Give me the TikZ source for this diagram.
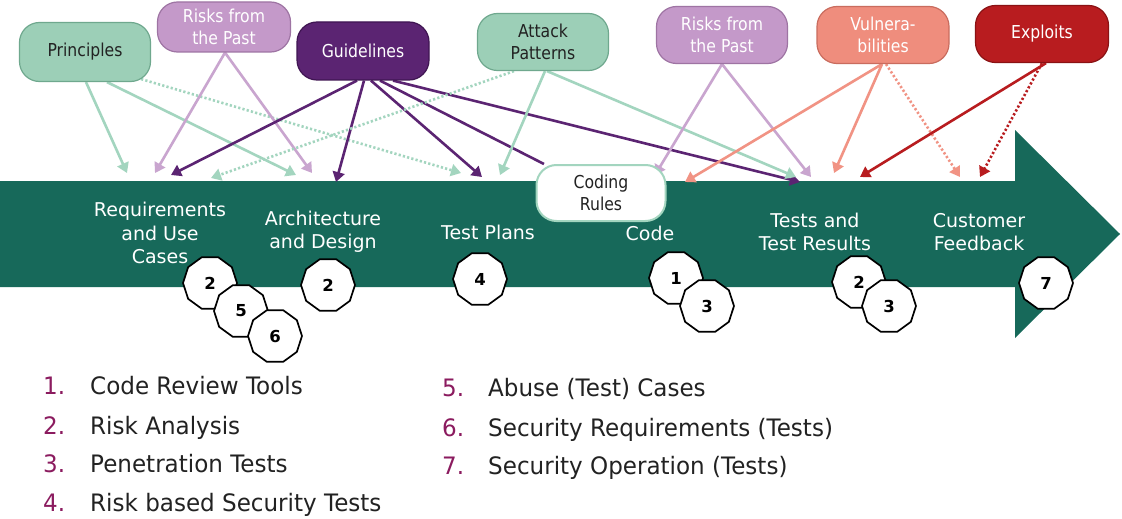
\documentclass[tikz,border=0pt]{standalone}
\usepackage{fontspec}
\setmainfont{DejaVu Sans}
\newfontfamily\narrowf{DejaVu Sans}[FakeStretch=0.88]
\newfontfamily\legf{DejaVu Sans}[FakeStretch=0.96]
\usetikzlibrary{arrows.meta,shapes.geometric}
\pgfdeclarelayer{back}
\pgfdeclarelayer{mid}
\pgfsetlayers{back,mid,main}
\definecolor{bodyg}{HTML}{17695A}
\definecolor{mintF}{HTML}{9CCFB7}
\definecolor{mintD}{HTML}{6FA88E}
\definecolor{mintA}{HTML}{A3D5BF}
\definecolor{lavF}{HTML}{C499C9}
\definecolor{lavD}{HTML}{9E74A3}
\definecolor{lavA}{HTML}{C9A5CF}
\definecolor{purF}{HTML}{5B2472}
\definecolor{purD}{HTML}{3F1552}
\definecolor{salF}{HTML}{EF8D7D}
\definecolor{salD}{HTML}{C96C5E}
\definecolor{salA}{HTML}{F19384}
\definecolor{redF}{HTML}{B81C1F}
\definecolor{redD}{HTML}{8A1214}
\definecolor{numc}{HTML}{8B1B5F}
\definecolor{txt}{HTML}{222222}
\tikzset{
  box/.style={rounded corners=20pt, minimum width=131pt, minimum height=57pt,
    line width=1.2pt, align=center, inner sep=2pt,
    font=\narrowf\fontsize{17.8}{22}\selectfont},
  lbl/.style={align=center, text=white, font=\fontsize{19}{23.5}\selectfont},
  badge/.style={regular polygon, regular polygon sides=10, minimum size=54pt,
    draw=black, line width=1.7pt, fill=white, inner sep=0pt,
    font=\bfseries\fontsize{16.5}{16.5}\selectfont},
  con/.style={line width=2.6pt, -{Triangle[length=10pt,width=12pt]}},
  dots/.style={con, dash pattern=on 2.2pt off 2.2pt},
  item/.style={anchor=base west, inner sep=0pt, text=txt,
    font=\legf\fontsize{24}{26}\selectfont}
}
\begin{document}
\begin{tikzpicture}[x=1pt,y=-1pt]
\useasboundingbox (0,0) rectangle (1122,519);
\begin{pgfonlayer}{back}
\fill[white] (0,0) rectangle (1122,519);
\fill[bodyg] (0,181) -- (1015,181) -- (1015,130) -- (1120,234) -- (1015,338) -- (1015,287) -- (0,287) -- cycle;
\end{pgfonlayer}

% source nodes
\node[box, fill=mintF, draw=mintD, text=txt, minimum height=59pt] (prin) at (85,52) {Principles};
\node[box, fill=lavF, draw=lavD, text=white, minimum width=133pt, minimum height=50pt] (risL) at (224,27) {Risks from\\the Past};
\node[box, fill=purF, draw=purD, text=white, minimum width=132pt, minimum height=58pt] (guid) at (363,51) {Guidelines};
\node[box, fill=mintF, draw=mintD, text=txt] (att) at (543,42) {Attack\\Patterns};
\node[box, fill=lavF, draw=lavD, text=white] (risR) at (722,35) {Risks from\\the Past};
\node[box, fill=salF, draw=salD, text=white, minimum width=132pt] (vul) at (883,35) {Vulnera-\\bilities};
\node[box, fill=redF, draw=redD, text=white, minimum width=133pt] (exp) at (1042,34) {Exploits};
\node[box, fill=white, draw=mintA, line width=2pt, text=txt, minimum width=129pt, minimum height=56pt] (cod) at (601,193) {Coding\\Rules};

% stage labels
\node[lbl] (lreq) at (160,233) {Requirements\\and Use\\Cases};
\node[lbl] (larc) at (323,232) {Architecture\\and Design};
\node[lbl] (ltp) at (488,232) {Test Plans};
\node[lbl] (lcode) at (650,233) {Code};
\node[lbl] (ltest) at (815,232) {Tests and\\Test Results};
\node[lbl] (lfb) at (979,232) {Customer\\Feedback};

% arrow targets
\coordinate (tReq1) at (127,173);
\coordinate (tReq2) at (155,173);
\coordinate (tReq3) at (171,175);
\coordinate (tReq4) at (211,178);
\coordinate (tArc1) at (296,175);
\coordinate (tArc2) at (312,173);
\coordinate (tArc3) at (336,182);
\coordinate (tTP1) at (461,173);
\coordinate (tTP2) at (482,177);
\coordinate (tTP3) at (500,175);
\coordinate (tCR) at (655,175);
\coordinate (tCode) at (685,182);
\coordinate (tTs1) at (796,177);
\coordinate (tTs2) at (800,182);
\coordinate (tTs3) at (811,177);
\coordinate (tTs4) at (834,173);
\coordinate (tTs5) at (860,177);
\coordinate (tFb1) at (960,177);
\coordinate (tFb2) at (980,177);

\begin{pgfonlayer}{mid}
% Principles
\draw[con, mintA] ([xshift=1pt]prin.south) -- (tReq1);
\draw[con, mintA] ([xshift=22pt]prin.south) -- (tArc1);
\draw[dots, mintA] ([xshift=-10pt,yshift=3pt]prin.south east) -- (tTP1);
% Risks (left)
\draw[con, lavA] ([xshift=1pt]risL.south) -- (tReq2);
\draw[con, lavA] ([xshift=1pt]risL.south) -- (tArc2);
% Guidelines
\draw[con, purF] ([xshift=-6pt]guid.south) -- (tReq3);
\draw[con, purF] ([xshift=1pt]guid.south) -- (tArc3);
\draw[con, purF] ([xshift=8pt]guid.south) -- (tTP2);
\draw[line width=2.6pt, purF] ([xshift=17pt]guid.south) -- (cod);
\draw[con, purF] ([xshift=30pt]guid.south) -- (tTs2);
% Attack Patterns
\draw[dots, mintA] ([xshift=-29pt]att.south) -- (tReq4);
\draw[con, mintA] ([xshift=2pt]att.south) -- (tTP3);
\draw[con, mintA] ([xshift=4pt]att.south) -- (tTs1);
% Risks (right)
\draw[con, lavA] (risR.south) -- (tCR);
\draw[con, lavA] (risR.south) -- (tTs3);
% Vulnerabilities
\draw[con, salA] ([xshift=-1pt]vul.south) -- (tCode);
\draw[con, salA] ([xshift=-1pt]vul.south) -- (tTs4);
\draw[dots, salA] ([xshift=3pt]vul.south) -- (tFb1);
% Exploits
\draw[con, redF] ([xshift=4pt]exp.south) -- (tTs5);
\draw[dots, redF] (exp.south) -- (tFb2);
\end{pgfonlayer}

% badges
\node[badge] (b1) at (210,283) {2};
\node[badge] (b2) at (241,311) {5};
\node[badge] (b3) at (275,336) {6};
\node[badge] (b4) at (328,285) {2};
\node[badge] (b5) at (480,279) {4};
\node[badge] (b6) at (676,278) {1};
\node[badge] (b7) at (707,306) {3};
\node[badge] (b8) at (859,282) {2};
\node[badge] (b9) at (889,306) {3};
\node[badge] (b10) at (1046,283) {7};

% legend
\node[item] (i1) at (43,394) {\makebox[47pt][l]{\textcolor{numc}{1.}}Code Review Tools};
\node[item] (i2) at (43,434) {\makebox[47pt][l]{\textcolor{numc}{2.}}Risk Analysis};
\node[item] (i3) at (43,472) {\makebox[47pt][l]{\textcolor{numc}{3.}}Penetration Tests};
\node[item] (i4) at (43,511) {\makebox[47pt][l]{\textcolor{numc}{4.}}Risk based Security Tests};
\node[item] (i5) at (442,396) {\makebox[46pt][l]{\textcolor{numc}{5.}}Abuse (Test) Cases};
\node[item] (i6) at (442,436) {\makebox[46pt][l]{\textcolor{numc}{6.}}Security Requirements (Tests)};
\node[item] (i7) at (442,474) {\makebox[46pt][l]{\textcolor{numc}{7.}}Security Operation (Tests)};
\end{tikzpicture}
\end{document}
